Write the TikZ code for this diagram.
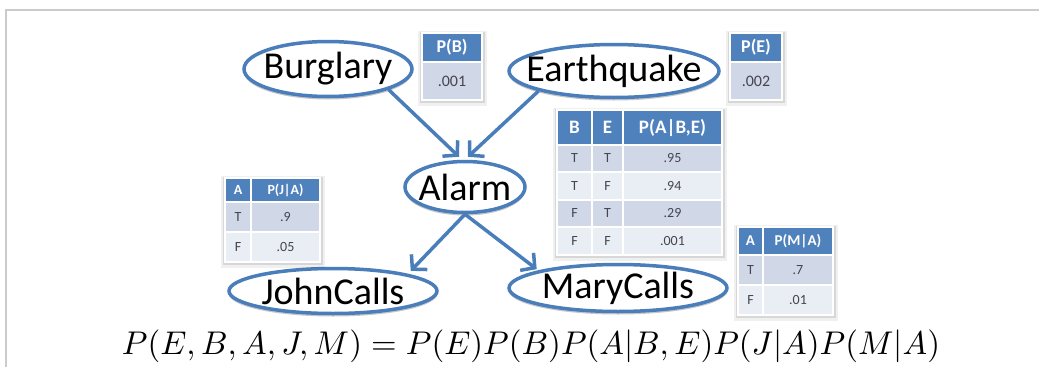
\documentclass[tikz,border=0pt]{standalone}
\usepackage{fontspec}
\setmainfont{Carlito}
\usepackage{graphicx}
\usetikzlibrary{arrows.meta,shapes.geometric,shadows}
\definecolor{obl}{HTML}{4F81BD}
\definecolor{oline}{HTML}{4A7EBB}
\definecolor{rdark}{HTML}{D0D8E8}
\definecolor{rlight}{HTML}{E9EDF4}
\definecolor{framegray}{HTML}{CBCBCB}
\definecolor{ctext}{HTML}{45454F}
\tikzset{
  var/.style={ellipse, draw=oline, line width=3.5pt, fill=white, inner sep=0pt,
    drop shadow={shadow xshift=0pt, shadow yshift=-3pt, opacity=.22, fill=black}},
  vartext/.style={font=\fontsize{38}{40}\selectfont, text=black, inner sep=0pt},
  edge/.style={draw=oline, line width=3.5pt, -{Straight Barb[length=10pt,width=22pt]}},
  hdr/.style={font=\bfseries\fontsize{18}{20}\selectfont, text=white, inner sep=0pt},
  hdrL/.style={font=\bfseries\fontsize{19}{21}\selectfont, text=white, inner sep=0pt},
  hdrS/.style={font=\bfseries\fontsize{14}{16}\selectfont, text=white, inner sep=0pt},
  hdrM/.style={font=\bfseries\fontsize{15}{17}\selectfont, text=white, inner sep=0pt},
  val/.style={font=\fontsize{14}{16}\selectfont, text=ctext, inner sep=0pt},
  valL/.style={font=\fontsize{16}{18}\selectfont, text=ctext, inner sep=0pt},
  sep/.style={draw=white, line width=1.2pt},
}
% \tc{name}{x1}{y1}{x2}{y2}{fill}{style}{text}
\newcommand\tc[8]{\path[fill=#6, sep] (#2,#3) rectangle (#4,#5) node[midway, #7] (#1) {#8};}
\newcommand\tshadow[4]{%
  \fill[black,opacity=.06] (#1-4,#2-2) rectangle (#3+5,#4+6);
  \fill[black,opacity=.10] (#1-2,#2-1) rectangle (#3+3,#4+3);}
\newcommand\hdrline[3]{\draw[white, line width=2.5pt] (#1,#3) -- (#2,#3);}
\begin{document}
\begin{tikzpicture}[x=1pt,y=-1pt]
\useasboundingbox (0,0) rectangle (1039,367);
\fill[white] (0,0) rectangle (1039,367);
\draw[framegray, line width=2.5pt] (6,367) -- (6,10) -- (1039,10);

% variables
\node[var, minimum width=168pt, minimum height=55pt] (burg) at (328,69) {};
\node[vartext] (burgt) at (burg) {Burglary};
\node[var, minimum width=210pt, minimum height=53pt] (earth) at (614,71) {};
\node[vartext] (eartht) at (earth) {Earthquake};
\node[var, minimum width=120pt, minimum height=51pt] (alarm) at (465,187) {};
\node[vartext] (alarmt) at (alarm) {Alarm};
\node[var, minimum width=208pt, minimum height=45pt] (john) at (333,291) {};
\node[vartext] (johnt) at (john) {JohnCalls};
\node[var, minimum width=218pt, minimum height=47pt] (mary) at (618,288) {};
\node[vartext] (maryt) at (mary) {MaryCalls};

% edges
\draw[edge] (burg.south east) -- ([xshift=-6pt,yshift=3pt]alarm.north);
\draw[edge] (earth.south west) -- ([xshift=3pt,yshift=3pt]alarm.north);
\draw[edge] (alarm.south) -- ([xshift=3pt,yshift=3pt]john.north east);
\draw[edge] (alarm.south) -- ([xshift=-3pt,yshift=1pt]mary.north west);

% P(B)
\tshadow{422}{33}{482}{100}
\tc{pbh}{422}{33}{482}{62}{obl}{hdr}{P(B)}
\tc{pbv}{422}{62}{482}{100}{rdark}{valL}{.001}
\hdrline{422}{482}{62}
% P(E)
\tshadow{730}{33}{782}{100}
\tc{peh}{730}{33}{782}{62}{obl}{hdr}{P(E)}
\tc{pev}{730}{62}{782}{100}{rdark}{valL}{.002}
\hdrline{730}{782}{62}
% P(A|B,E)
\tshadow{557}{110}{722}{255}
\tc{ah1}{557}{110}{592}{145}{obl}{hdrL}{B}
\tc{ah2}{592}{110}{623}{145}{obl}{hdrL}{E}
\tc{ah3}{623}{110}{722}{145}{obl}{hdrL}{P(A|B,E)}
\tc{a11}{557}{145}{592}{172}{rdark}{val}{T}
\tc{a12}{592}{145}{623}{172}{rdark}{val}{T}
\tc{a13}{623}{145}{722}{172}{rdark}{val}{.95}
\tc{a21}{557}{172}{592}{200}{rlight}{val}{T}
\tc{a22}{592}{172}{623}{200}{rlight}{val}{F}
\tc{a23}{623}{172}{722}{200}{rlight}{val}{.94}
\tc{a31}{557}{200}{592}{227}{rdark}{val}{F}
\tc{a32}{592}{200}{623}{227}{rdark}{val}{T}
\tc{a33}{623}{200}{722}{227}{rdark}{val}{.29}
\tc{a41}{557}{227}{592}{255}{rlight}{val}{F}
\tc{a42}{592}{227}{623}{255}{rlight}{val}{F}
\tc{a43}{623}{227}{722}{255}{rlight}{val}{.001}
\hdrline{557}{722}{145}
% P(J|A)
\tshadow{225}{178}{320}{262}
\tc{jh1}{225}{178}{251}{202}{obl}{hdrS}{A}
\tc{jh2}{251}{178}{320}{202}{obl}{hdrS}{P(J|A)}
\tc{j11}{225}{202}{251}{232}{rdark}{val}{T}
\tc{j12}{251}{202}{320}{232}{rdark}{val}{.9}
\tc{j21}{225}{232}{251}{262}{rlight}{val}{F}
\tc{j22}{251}{232}{320}{262}{rlight}{val}{.05}
\hdrline{225}{320}{202}
% P(M|A)
\tshadow{738}{227}{833}{315}
\tc{mh1}{738}{227}{763}{255}{obl}{hdrM}{A}
\tc{mh2}{763}{227}{833}{255}{obl}{hdrM}{P(M|A)}
\tc{m11}{738}{255}{763}{285}{rdark}{val}{T}
\tc{m12}{763}{255}{833}{285}{rdark}{val}{.7}
\tc{m21}{738}{285}{763}{315}{rlight}{val}{F}
\tc{m22}{763}{285}{833}{315}{rlight}{val}{.01}
\hdrline{738}{833}{255}

% equation
\node[inner sep=0pt] (eq) at (531,346) {\resizebox{818pt}{!}{$P(E,B,A,J,M)=P(E)P(B)P(A|B,E)P(J|A)P(M|A)$}};
\end{tikzpicture}
\end{document}
